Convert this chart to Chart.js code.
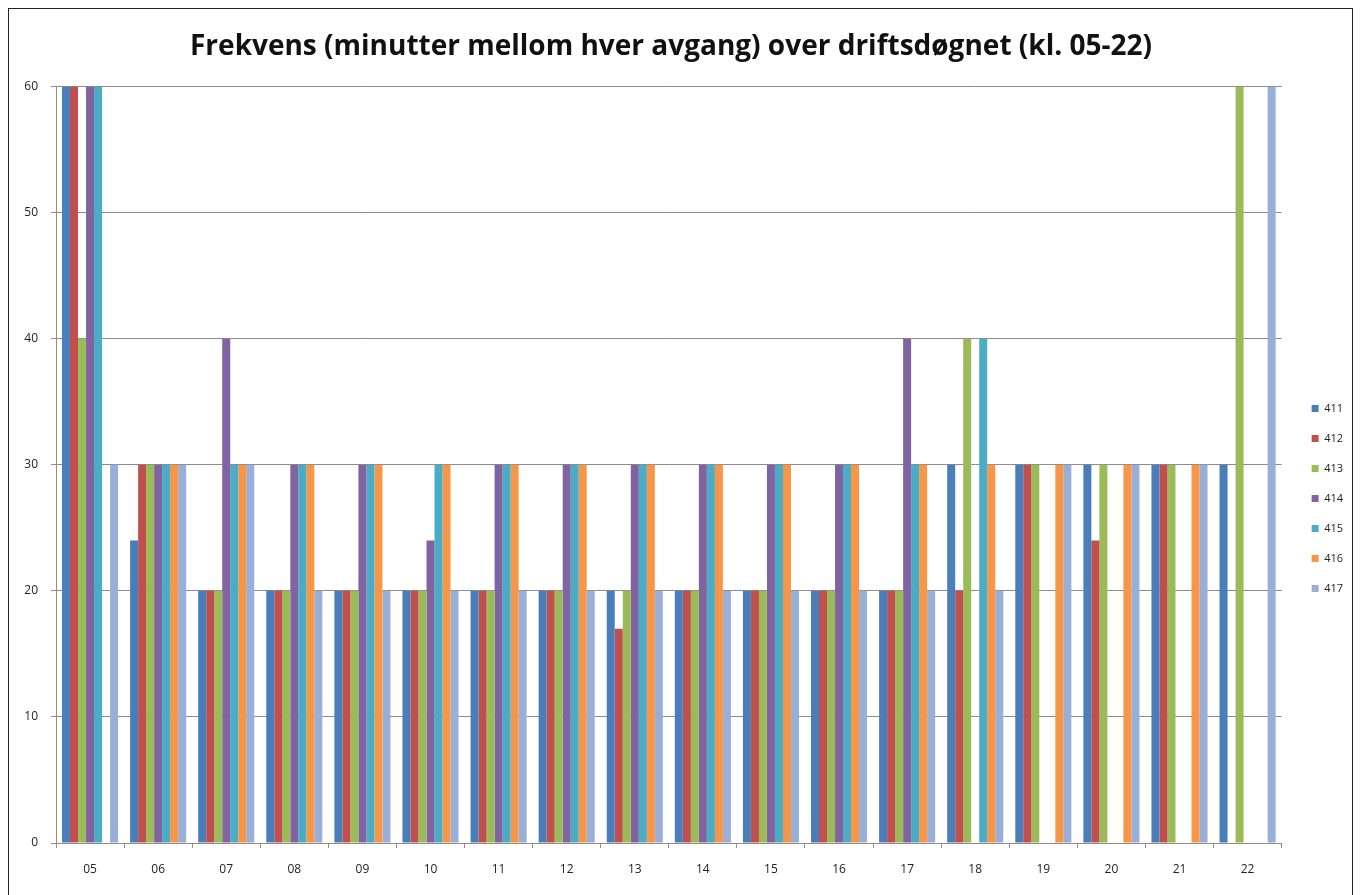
<!DOCTYPE html>
<html>
<head>
<meta charset="utf-8">
<script src="https://cdn.jsdelivr.net/npm/chart.js@4/dist/chart.umd.min.js"></script>
<style>
  body { margin: 0; background: #fff; }
  #wrap { position: relative; width: 1360px; height: 895px; }
  #frame { position: absolute; left: 8px; top: 8px; width: 1343px; height: 900px; border: 1px solid #222; pointer-events: none; }
</style>
</head>
<body>
<div id="wrap">
  <canvas id="chart" width="1360" height="895"></canvas>
  <div id="frame"></div>
</div>
<script>
// hours of the service day
var hours = ['05', '06', '07', '08', '09', '10', '11', '12', '13', '14', '15', '16', '17', '18', '19', '20', '21', '22'];

// minutes between departures, per line (null = no departure that hour)
var line411 = [60, 24, 20, 20, 20, 20, 20, 20, 20, 20, 20, 20, 20, 30, 30, 30, 30, 30];
var line412 = [60, 30, 20, 20, 20, 20, 20, 20, 17, 20, 20, 20, 20, 20, 30, 24, 30, null];
var line413 = [40, 30, 20, 20, 20, 20, 20, 20, 20, 20, 20, 20, 20, 40, 30, 30, 30, 60];
var line414 = [60, 30, 40, 30, 30, 24, 30, 30, 30, 30, 30, 30, 40, null, null, null, null, null];
var line415 = [60, 30, 30, 30, 30, 30, 30, 30, 30, 30, 30, 30, 30, 40, null, null, null, null];
var line416 = [null, 30, 30, 30, 30, 30, 30, 30, 30, 30, 30, 30, 30, 30, 30, 30, 30, null];
var line417 = [30, 30, 30, 20, 20, 20, 20, 20, 20, 20, 20, 20, 20, 20, 30, 30, 30, 60];

var lineNames = ['411', '412', '413', '414', '415', '416', '417'];
var lineData = [line411, line412, line413, line414, line415, line416, line417];
var lineColors = ['#4a7ebb', '#c0504d', '#9bbb59', '#8064a2', '#4bacc6', '#f79646', '#98afd7'];

var yTicks = [0, 10, 20, 30, 40, 50, 60];

var datasets = [];
for (var i = 0; i < lineNames.length; i++) {
    datasets.push({
        label: lineNames[i],
        data: lineData[i],
        backgroundColor: lineColors[i],
        borderWidth: 0,
        categoryPercentage: 7 / 8.5,
        barPercentage: 1.0
    });
}

// move the legend a bit lower and further right, like the original
var legendNudge = {
    id: 'legendNudge',
    afterLayout: function (chart) {
        var lg = chart.legend;
        lg.left += 11; lg.right += 11;
        lg.top += 51; lg.bottom += 51;
    }
};

var ctx = document.getElementById('chart');
var chart = new Chart(ctx, {
    type: 'bar',
    data: { labels: hours, datasets: datasets },
    plugins: [legendNudge],
    options: {
        responsive: false,
        animation: false,
        layout: { padding: { left: 0, right: 18, top: 0, bottom: 0 } },
        plugins: {
            title: {
                display: true,
                text: 'Frekvens (minutter mellom hver avgang) over driftsdøgnet (kl. 05-22)',
                color: '#111',
                font: { family: 'Open Sans', size: 28, weight: 'bold' },
                padding: { top: 30, bottom: 23 }
            },
            legend: {
                position: 'right',
                align: 'center',
                labels: {
                    boxWidth: 7,
                    boxHeight: 7,
                    padding: 19,
                    color: '#222',
                    font: { family: 'Open Sans', size: 11 }
                }
            },
            tooltip: { enabled: false }
        },
        scales: {
            x: {
                grid: { display: true, drawOnChartArea: false, drawTicks: true, tickLength: 5, color: '#9a8c80', offset: true },
                border: { color: '#9a8c80' },
                ticks: { color: '#222', padding: 14, font: { family: 'Open Sans', size: 12 } },
                afterFit: function (s) { s.height = 52; }
            },
            y: {
                min: 0,
                max: 60,
                afterBuildTicks: function (s) { s.ticks = yTicks.map(function (v) { return { value: v }; }); },
                grid: { color: '#8c8c8c', tickLength: 5 },
                border: { color: '#9a8c80' },
                ticks: { color: '#222', padding: 13, font: { family: 'Open Sans', size: 12 } },
                afterFit: function (s) { s.width = 56; }
            }
        }
    }
});
</script>
</body>
</html>
